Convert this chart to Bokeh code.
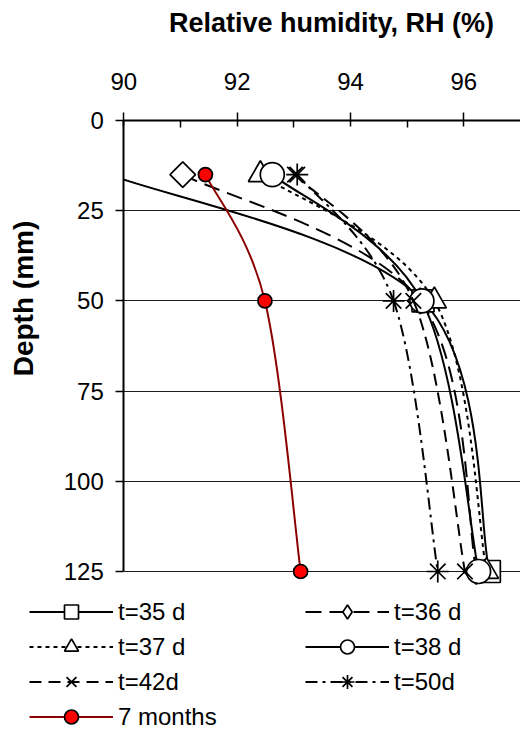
import math
from bokeh.plotting import figure
from bokeh.models import (Range1d, FixedTicker, Legend, LegendItem, Label,
                          BoxAnnotation, ColumnDataSource)
from bokeh.embed import file_html
from bokeh.resources import INLINE

# ---------------- data ----------------
depth = [15, 50, 125]
rh_35d = [89.75, 95.28, 96.45]
rh_36d = [91.04, 95.23, 96.22]
rh_37d = [92.41, 95.48, 96.40]
rh_38d = [92.62, 95.26, 96.26]
rh_42d = [93.02, 95.11, 96.02]
rh_50d = [93.06, 94.76, 95.54]
rh_7m = [91.44, 92.49, 93.12]

x_ticks = [90, 92, 94, 96]
x_minor = [91, 93, 95]
y_ticks = [0, 25, 50, 75, 100, 125]

FONT = "Liberation Sans"


def smooth_segments(xs, ys):
    """Bezier control points for a smoothed (Catmull-Rom style) line."""
    n = len(xs)
    d = dict(x0=[], y0=[], x1=[], y1=[], cx0=[], cy0=[], cx1=[], cy1=[])
    for i in range(n - 1):
        pv = i - 1 if i > 0 else i
        nx = i + 2 if i + 2 < n else i + 1
        d["x0"].append(xs[i]); d["y0"].append(ys[i])
        d["x1"].append(xs[i + 1]); d["y1"].append(ys[i + 1])
        d["cx0"].append(xs[i] + (xs[i + 1] - xs[pv]) / 6.0)
        d["cy0"].append(ys[i] + (ys[i + 1] - ys[pv]) / 6.0)
        d["cx1"].append(xs[i + 1] - (xs[nx] - xs[i]) / 6.0)
        d["cy1"].append(ys[i + 1] - (ys[nx] - ys[i]) / 6.0)
    return ColumnDataSource(d)


# frame covers the whole canvas; axes sit at fixed data locations
p = figure(width=520, height=731, output_backend="svg", toolbar_location=None,
           x_axis_location="above", x_range=Range1d(87.824, 97),
           y_range=Range1d(169.35, -33.26),
           min_border=0, min_border_left=0, min_border_right=0,
           min_border_top=0, min_border_bottom=0)
p.outline_line_color = None
p.background_fill_color = "white"
p.border_fill_color = "white"

# axes
xa = p.xaxis[0]
xa.fixed_location = 0
xa.bounds = (90, 97)
xa.ticker = FixedTicker(ticks=x_ticks, minor_ticks=x_minor)
xa.major_label_text_font = FONT
xa.major_label_text_font_size = "24px"
xa.major_label_standoff = 22
xa.axis_line_width = 2
xa.axis_line_color = "black"
xa.major_tick_in = 6
xa.major_tick_out = 8
xa.minor_tick_in = 7
xa.minor_tick_out = 0
xa.major_tick_line_width = 1.5
xa.minor_tick_line_width = 1.5
xa.major_tick_line_color = "black"
xa.minor_tick_line_color = "black"
xa.major_label_text_color = "black"

ya = p.yaxis[0]
ya.fixed_location = 90
ya.bounds = (0, 125)
ya.ticker = FixedTicker(ticks=y_ticks, minor_ticks=[])
ya.major_label_text_font = FONT
ya.major_label_text_font_size = "24px"
ya.major_label_standoff = 12
ya.axis_line_width = 2
ya.axis_line_color = "black"
ya.major_tick_in = 0
ya.major_tick_out = 8
ya.major_tick_line_width = 1.5
ya.major_tick_line_color = "black"
ya.minor_tick_line_color = None
ya.major_label_text_color = "black"

p.xgrid.visible = False
ygrid = p.ygrid[0]
ygrid.ticker = FixedTicker(ticks=y_ticks)
ygrid.grid_line_color = "#1a1a1a"
ygrid.grid_line_width = 1
if "cross_bounds" in ygrid.properties():
    ygrid.cross_bounds = (90, 97)

series = [
    ("t=35 d", rh_35d, "solid", "black", dict(marker="square", size=22, angle=0), None),
    ("t=36 d", rh_36d, "16 8", "black", dict(marker="square", size=18, angle=math.pi / 4), "diamond"),
    ("t=37 d", rh_37d, "4 4", "black", dict(marker="triangle", size=24, angle=0), None),
    ("t=38 d", rh_38d, "solid", "black", dict(marker="circle", size=24, angle=0), None),
    ("t=42d", rh_42d, "12 7", "black", dict(marker="x", size=22, angle=0), None),
    ("t=50d", rh_50d, "12 5 3 5", "black", dict(marker="asterisk", size=22, angle=0), None),
    ("7 months", rh_7m, "solid", "#8B0000", dict(marker="circle", size=14, angle=0), None),
]

items = []
for name, vals, dash, color, mk, legend_marker in series:
    src = smooth_segments(vals, depth)
    curve = p.bezier(x0="x0", y0="y0", x1="x1", y1="y1", cx0="cx0", cy0="cy0",
                     cx1="cx1", cy1="cy1", source=src, line_color=color,
                     line_width=2, line_dash=dash)
    fill = "red" if name == "7 months" else "white"
    swatch = None
    if legend_marker is not None:
        # small upright diamond used as the legend symbol; in the plot it is
        # completely covered by the larger rotated-square marker drawn next
        swatch = p.scatter(vals, depth, marker=legend_marker, size=12,
                           fill_color=fill, line_color="black", line_width=1.7)
    pts = p.scatter(vals, depth, marker=mk["marker"], size=mk["size"],
                    angle=mk["angle"], fill_color=fill, line_color="black",
                    line_width=1.7)
    rends = [curve, swatch if swatch is not None else pts]
    items.append(LegendItem(label=name, renderers=rends))

# plot-area clipping at the 90 % axis (values beyond the axis are hidden)
mask = BoxAnnotation(left=80, right=90, fill_color="white", fill_alpha=1.0,
                     line_alpha=0, level="glyph")
p.add_layout(mask)

xlab = Label(x=331, y=709, x_units="screen", y_units="screen",
             text="Relative humidity, RH (%)", text_align="center",
             text_baseline="middle", text_font=FONT, text_font_style="bold",
             text_font_size="27px", text_color="black")
p.add_layout(xlab)

ylab = Label(x=22.5, y=433, x_units="screen", y_units="screen",
             text="Depth (mm)", angle=math.pi / 2, text_align="center",
             text_baseline="middle", text_font=FONT, text_font_style="bold",
             text_font_size="28px", text_color="black")
p.add_layout(ylab)

legend = Legend(items=items, orientation="horizontal", ncols=2,
                location=(29, -3), glyph_width=84, glyph_height=35,
                label_height=35, label_width=187, label_standoff=5,
                spacing=0, padding=0, margin=0,
                label_text_font=FONT, label_text_font_size="24px",
                label_text_color="black", border_line_color=None,
                background_fill_alpha=0)
p.add_layout(legend)

open("out.html", "w").write(file_html(p, INLINE))
